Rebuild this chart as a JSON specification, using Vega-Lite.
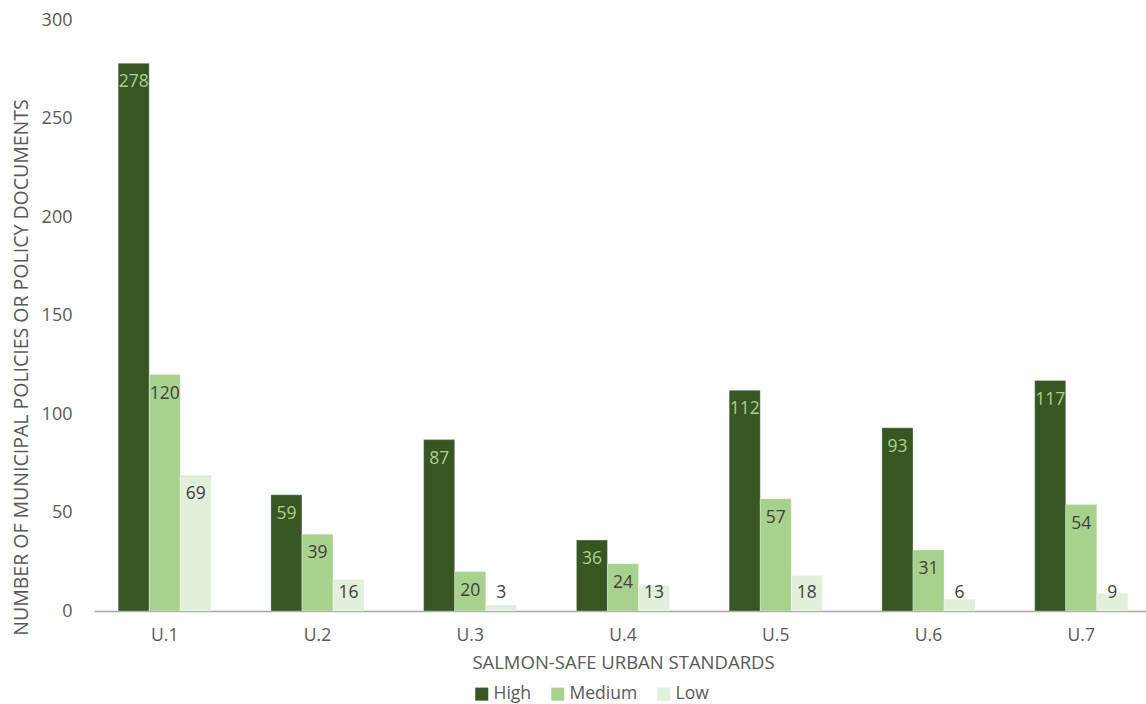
{
  "$schema": "https://vega.github.io/schema/vega-lite/v6.json",
  "autosize": {"type": "none"},
  "padding": {"left": 88, "top": 20, "right": 0, "bottom": 93},
  "width": 1058,
  "height": 591,
  "background": "white",
  "config": {
    "view": {"stroke": null},
    "font": "Open Sans",
    "axis": {"labelFont": "Open Sans", "titleFont": "Open Sans", "labelColor": "#595959", "titleColor": "#595959", "titleFontWeight": "normal"},
    "legend": {"labelFont": "Open Sans"}
  },
  "data": {
    "values": [
      {"standard": "U.1", "level": "High", "value": 278},
      {"standard": "U.1", "level": "Medium", "value": 120},
      {"standard": "U.1", "level": "Low", "value": 69},
      {"standard": "U.2", "level": "High", "value": 59},
      {"standard": "U.2", "level": "Medium", "value": 39},
      {"standard": "U.2", "level": "Low", "value": 16},
      {"standard": "U.3", "level": "High", "value": 87},
      {"standard": "U.3", "level": "Medium", "value": 20},
      {"standard": "U.3", "level": "Low", "value": 3},
      {"standard": "U.4", "level": "High", "value": 36},
      {"standard": "U.4", "level": "Medium", "value": 24},
      {"standard": "U.4", "level": "Low", "value": 13},
      {"standard": "U.5", "level": "High", "value": 112},
      {"standard": "U.5", "level": "Medium", "value": 57},
      {"standard": "U.5", "level": "Low", "value": 18},
      {"standard": "U.6", "level": "High", "value": 93},
      {"standard": "U.6", "level": "Medium", "value": 31},
      {"standard": "U.6", "level": "Low", "value": 6},
      {"standard": "U.7", "level": "High", "value": 117},
      {"standard": "U.7", "level": "Medium", "value": 54},
      {"standard": "U.7", "level": "Low", "value": 9}
    ]
  },
  "encoding": {
    "x": {
      "field": "standard", "type": "nominal", "sort": null,
      "scale": {"paddingInner": 0.39, "paddingOuter": 0.158, "range": [6, 1064]},
      "axis": {
        "title": "SALMON-SAFE URBAN STANDARDS", "titleFontSize": 18.5, "titlePadding": 10,
        "labelAngle": 0, "labelFontSize": 17.5, "labelPadding": 15,
        "ticks": false, "domainColor": "#a6a6a6", "domainWidth": 1.5
      }
    },
    "xOffset": {"field": "level", "type": "nominal", "sort": ["High", "Medium", "Low"], "scale": {"paddingInner": 0, "paddingOuter": 0}}
  },
  "layer": [
    {
      "mark": {"type": "bar", "stroke": "#ffffff", "strokeWidth": 0.5, "strokeOpacity": 0.6},
      "encoding": {
        "y": {
          "field": "value", "type": "quantitative",
          "scale": {"domain": [0, 300], "nice": false},
          "axis": {
            "title": "NUMBER OF MUNICIPAL POLICIES OR POLICY DOCUMENTS", "titleFontSize": 19.5, "titlePadding": 10,
            "titleY": 347,
            "values": [0, 50, 100, 150, 200, 250, 300],
            "labelFontSize": 18, "labelPadding": 16, "ticks": false, "domain": false, "grid": false
          }
        },
        "color": {
          "field": "level", "type": "nominal",
          "scale": {"domain": ["High", "Medium", "Low"], "range": ["#375623", "#a9d18e", "#e2efda"]},
          "legend": {
            "title": null, "orient": "none", "direction": "horizontal",
            "legendX": 385, "legendY": 665,
            "symbolType": "square", "symbolSize": 170, "symbolStrokeWidth": 0,
            "labelFontSize": 17.5, "labelColor": "#595959", "columnPadding": 17, "labelOffset": 3
          }
        }
      }
    },
    {
      "transform": [{"calculate": "max(datum.value, 19)", "as": "labelPos"}],
      "mark": {"type": "text", "baseline": "middle", "dy": 19, "fontSize": 17.5},
      "encoding": {
        "y": {"field": "labelPos", "type": "quantitative"},
        "text": {"field": "value", "type": "quantitative"},
        "color": {
          "condition": {"test": "datum.level === 'High'", "value": "#a9d18e"},
          "value": "#404040"
        }
      }
    }
  ]
}
